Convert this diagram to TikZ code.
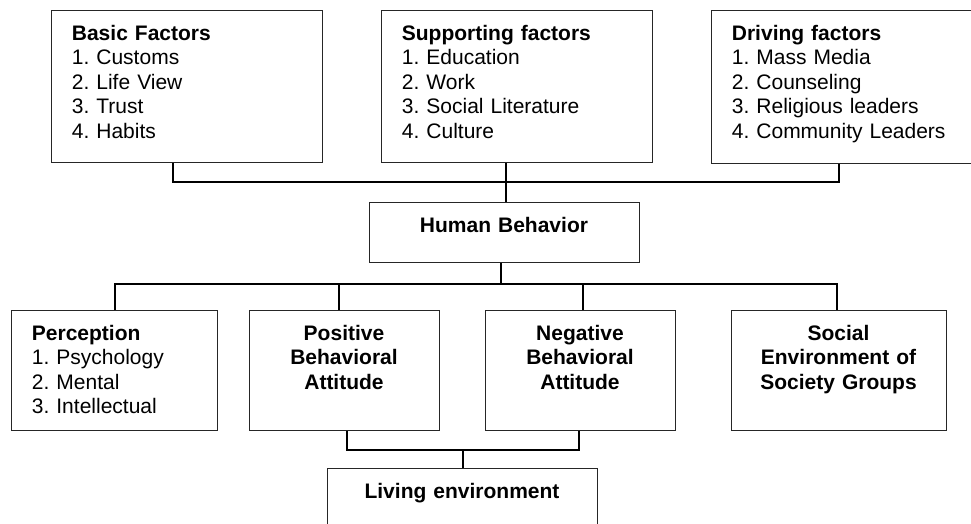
\documentclass[tikz,border=0pt]{standalone}
\usepackage{fontspec}
\setmainfont{Liberation Sans}
\frenchspacing
\begin{document}
\begin{tikzpicture}[x=1pt,y=-1pt,
  box/.style={draw=black!85,line width=0.9pt,inner sep=0pt,fill=none},
  conn/.style={draw=black,line width=1.2pt},
  ltext/.style={inner sep=0pt,anchor=base west,align=left,text width=#1,
     font=\fontsize{21}{24.4}\selectfont\frenchspacing},
  ctext/.style={inner sep=0pt,anchor=base,align=center,text width=#1,
     font=\fontsize{21}{24.4}\selectfont\frenchspacing}]
\useasboundingbox (0,0) rectangle (971,524);
\begin{scope}
\clip (0,0) rectangle (971,524);
% boxes
\node[box,minimum width=271pt,minimum height=152pt,anchor=north west] (basic) at (51,10) {};
\node[box,minimum width=271pt,minimum height=152pt,anchor=north west] (supp) at (381,10) {};
\node[box,minimum width=275pt,minimum height=153pt,anchor=north west] (drive) at (711,10) {};
\node[box,minimum width=270pt,minimum height=60pt,anchor=north west] (human) at (369,202) {};
\node[box,minimum width=206pt,minimum height=120pt,anchor=north west] (perc) at (11,310) {};
\node[box,minimum width=190pt,minimum height=120pt,anchor=north west] (pos) at (249,310) {};
\node[box,minimum width=190pt,minimum height=120pt,anchor=north west] (neg) at (485,310) {};
\node[box,minimum width=215pt,minimum height=120pt,anchor=north west] (soc) at (731,310) {};
\node[box,minimum width=270pt,minimum height=70pt,anchor=north west] (living) at (327,468) {};
% texts
\node[ltext=240pt] (basict) at (71.7,40.5) {\textbf{Basic Factors}\\1. Customs\\2. Life View\\3. Trust\\4. Habits};
\node[ltext=240pt] (suppt) at (401.7,40.5) {\textbf{Supporting factors}\\1. Education\\2. Work\\3. Social Literature\\4. Culture};
\node[ltext=240pt] (drivet) at (731.7,40.5) {\textbf{Driving factors}\\1. Mass Media\\2. Counseling\\3. Religious leaders\\4. Community Leaders};
\node[ctext=260pt] (humant) at (504,232.5) {\textbf{Human Behavior}};
\node[ltext=180pt] (perct) at (31.7,340.5) {\textbf{Perception}\\1. Psychology\\2. Mental\\3. Intellectual};
\node[ctext=180pt] (post) at (344,340.5) {\textbf{Positive}\\\textbf{Behavioral}\\\textbf{Attitude}};
\node[ctext=180pt] (negt) at (580,340.5) {\textbf{Negative}\\\textbf{Behavioral}\\\textbf{Attitude}};
\node[ctext=210pt] (soct) at (838.5,340.5) {\textbf{Social}\\\textbf{Environment of}\\\textbf{Society Groups}};
\node[ctext=260pt] (livingt) at (462,498.5) {\textbf{Living environment}};
% connector points
\coordinate (t1) at (173,182);
\coordinate (t2) at (506,182);
\coordinate (t3) at (839,182);
\coordinate (m0) at (501,284);
\coordinate (m1) at (115,284);
\coordinate (m2) at (339,284);
\coordinate (m3) at (583,284);
\coordinate (m4) at (837,284);
\coordinate (b1) at (347,450);
\coordinate (b2) at (579,450);
\coordinate (b0) at (463,450);
% connectors
\draw[conn] (basic.south -| t1) -- (t1) -- (t3) -- (drive.south -| t3);
\draw[conn] (supp.south -| t2) -- (human.north -| t2);
\draw[conn] (human.south -| m0) -- (m0);
\draw[conn] (perc.north -| m1) -- (m1) -- (m4) -- (soc.north -| m4);
\draw[conn] (pos.north -| m2) -- (m2);
\draw[conn] (neg.north -| m3) -- (m3);
\draw[conn] (pos.south -| b1) -- (b1) -- (b2) -- (neg.south -| b2);
\draw[conn] (b0) -- (living.north -| b0);
\end{scope}
\end{tikzpicture}
\end{document}
